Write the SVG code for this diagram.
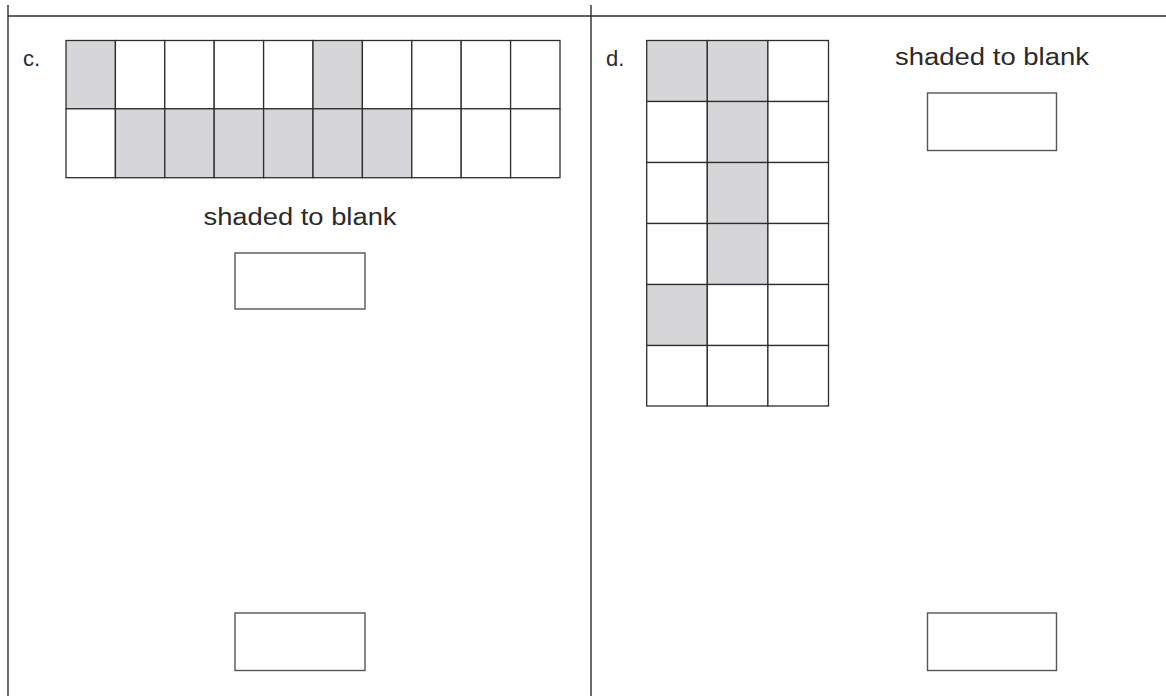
<svg xmlns="http://www.w3.org/2000/svg" width="1166" height="696" viewBox="0 0 1166 696">
<style>
.frame{stroke:#2b2b2b;stroke-width:1.4;fill:none}
.cell{stroke:#2e2e2e;stroke-width:1.3;fill:#ffffff}
.sh{fill:#d6d6d8}
.box{stroke:#555555;stroke-width:1.4;fill:#ffffff}
.lbl{font-family:"Liberation Sans",Arial,sans-serif;font-size:22px;fill:#2a2a2a}
.cap{font-family:"Liberation Sans",Arial,sans-serif;font-size:23px;fill:#2a2a2a}
</style>
<rect width="1166" height="696" fill="#ffffff"/>
<g id="frame">
<line class="frame" x1="8" y1="5" x2="8" y2="696"/>
<line class="frame" x1="591" y1="5" x2="591" y2="696"/>
<line class="frame" x1="8" y1="16" x2="1166" y2="16"/>
</g>
<g id="part-c">
<text class="lbl" x="23" y="66">c.</text>
<g id="grid-c">
<rect class="cell sh" x="66" y="40.5" width="49.4" height="68.3"/>
<rect class="cell" x="115.4" y="40.5" width="49.4" height="68.3"/>
<rect class="cell" x="164.8" y="40.5" width="49.4" height="68.3"/>
<rect class="cell" x="214.2" y="40.5" width="49.4" height="68.3"/>
<rect class="cell" x="263.6" y="40.5" width="49.4" height="68.3"/>
<rect class="cell sh" x="313" y="40.5" width="49.4" height="68.3"/>
<rect class="cell" x="362.4" y="40.5" width="49.4" height="68.3"/>
<rect class="cell" x="411.8" y="40.5" width="49.4" height="68.3"/>
<rect class="cell" x="461.2" y="40.5" width="49.4" height="68.3"/>
<rect class="cell" x="510.6" y="40.5" width="49.4" height="68.3"/>
<rect class="cell" x="66" y="108.8" width="49.4" height="68.9"/>
<rect class="cell sh" x="115.4" y="108.8" width="49.4" height="68.9"/>
<rect class="cell sh" x="164.8" y="108.8" width="49.4" height="68.9"/>
<rect class="cell sh" x="214.2" y="108.8" width="49.4" height="68.9"/>
<rect class="cell sh" x="263.6" y="108.8" width="49.4" height="68.9"/>
<rect class="cell sh" x="313" y="108.8" width="49.4" height="68.9"/>
<rect class="cell sh" x="362.4" y="108.8" width="49.4" height="68.9"/>
<rect class="cell" x="411.8" y="108.8" width="49.4" height="68.9"/>
<rect class="cell" x="461.2" y="108.8" width="49.4" height="68.9"/>
<rect class="cell" x="510.6" y="108.8" width="49.4" height="68.9"/>
</g>
<text class="cap" x="300" y="225" text-anchor="middle" textLength="193" lengthAdjust="spacingAndGlyphs">shaded to blank</text>
<rect id="box-c1" class="box" x="235" y="253" width="130" height="56"/>
<rect id="box-c2" class="box" x="235" y="613" width="130" height="57.5"/>
</g>
<g id="part-d">
<text class="lbl" x="606" y="66">d.</text>
<g id="grid-d">
<rect class="cell sh" x="646.7" y="40.5" width="60.6" height="61"/>
<rect class="cell sh" x="707.3" y="40.5" width="60.6" height="61"/>
<rect class="cell" x="767.9" y="40.5" width="60.6" height="61"/>
<rect class="cell" x="646.7" y="101.5" width="60.6" height="61"/>
<rect class="cell sh" x="707.3" y="101.5" width="60.6" height="61"/>
<rect class="cell" x="767.9" y="101.5" width="60.6" height="61"/>
<rect class="cell" x="646.7" y="162.5" width="60.6" height="61"/>
<rect class="cell sh" x="707.3" y="162.5" width="60.6" height="61"/>
<rect class="cell" x="767.9" y="162.5" width="60.6" height="61"/>
<rect class="cell" x="646.7" y="223.5" width="60.6" height="61"/>
<rect class="cell sh" x="707.3" y="223.5" width="60.6" height="61"/>
<rect class="cell" x="767.9" y="223.5" width="60.6" height="61"/>
<rect class="cell sh" x="646.7" y="284.5" width="60.6" height="61"/>
<rect class="cell" x="707.3" y="284.5" width="60.6" height="61"/>
<rect class="cell" x="767.9" y="284.5" width="60.6" height="61"/>
<rect class="cell" x="646.7" y="345.5" width="60.6" height="60.5"/>
<rect class="cell" x="707.3" y="345.5" width="60.6" height="60.5"/>
<rect class="cell" x="767.9" y="345.5" width="60.6" height="60.5"/>
</g>
<text class="cap" x="992" y="65" text-anchor="middle" textLength="194" lengthAdjust="spacingAndGlyphs">shaded to blank</text>
<rect id="box-d1" class="box" x="927.5" y="93" width="129" height="57.5"/>
<rect id="box-d2" class="box" x="927.5" y="613" width="129" height="57.5"/>
</g>
</svg>
